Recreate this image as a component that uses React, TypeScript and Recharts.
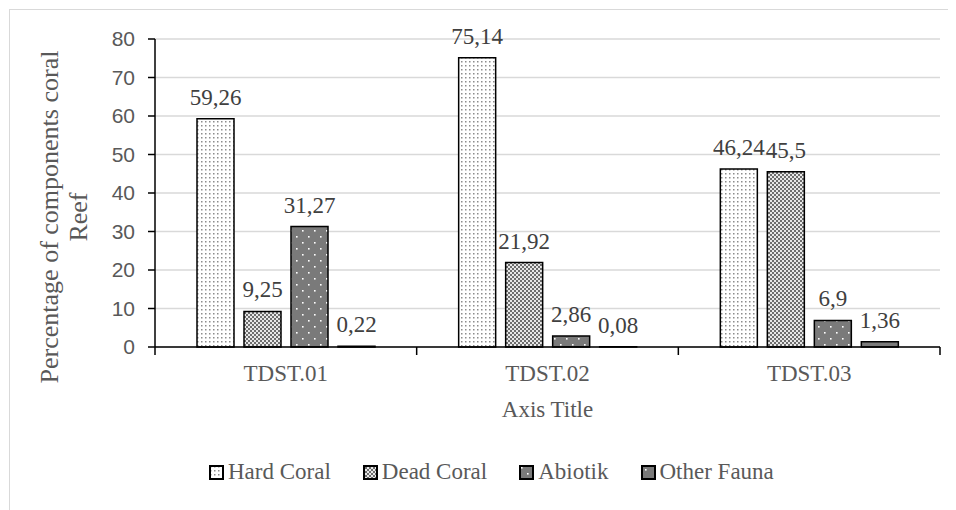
import React from "react";
import {
  BarChart, Bar, XAxis, YAxis, CartesianGrid, LabelList, Label,
} from "recharts";

const sites = ["TDST.01", "TDST.02", "TDST.03"];
const hardCoral = [59.26, 75.14, 46.24];
const deadCoral = [9.25, 21.92, 45.5];
const abiotik = [31.27, 2.86, 6.9];
const otherFauna = [0.22, 0.08, 1.36];
const yTicks = [0, 10, 20, 30, 40, 50, 60, 70, 80];

const SERIES = [
  { key: "hard", name: "Hard Coral", fill: "url(#patHard)", values: hardCoral },
  { key: "dead", name: "Dead Coral", fill: "url(#patDead)", values: deadCoral },
  { key: "abio", name: "Abiotik", fill: "url(#patAbio)", values: abiotik },
  { key: "other", name: "Other Fauna", fill: "url(#patOther)", values: otherFauna },
];

const data = sites.map((s, i) => {
  const row: Record<string, string | number> = { site: s };
  SERIES.forEach((se) => (row[se.key] = se.values[i]));
  return row;
});

const W = 956;
const H = 510;
const PLOT_LEFT = 155;
const PLOT_RIGHT = 940;
const PLOT_TOP = 39;
const PLOT_BOTTOM = 347;
const X_AXIS_H = 50;
const BAND = (PLOT_RIGHT - PLOT_LEFT) / sites.length;

const SERIF = "'Liberation Serif', 'Times New Roman', serif";
const SANS = "'Liberation Sans', Arial, sans-serif";

const fmt = (v: number) => String(v).replace(".", ",");

function CatTick(props: any) {
  const { x, payload, index } = props;
  const left = x - BAND / 2;
  return (
    <g>
      <line x1={left} x2={left} y1={PLOT_BOTTOM} y2={PLOT_BOTTOM + 8} stroke="#000" strokeWidth={1.5} />
      {index === sites.length - 1 && (
        <line x1={x + BAND / 2} x2={x + BAND / 2} y1={PLOT_BOTTOM} y2={PLOT_BOTTOM + 8} stroke="#000" strokeWidth={1.5} />
      )}
      <text x={x} y={PLOT_BOTTOM + 34} textAnchor="middle" fontFamily={SERIF} fontSize={23} fill="#595959">
        {payload.value}
      </text>
    </g>
  );
}

// Excel-style two-line rotated title, centred a bit below the plot middle
function YTitle() {
  const cy = 217;
  return (
    <g>
      <text x={58} y={cy} transform={`rotate(-90, 58, ${cy})`} textAnchor="middle" fontFamily={SERIF} fontSize={26} fill="#595959">
        Percentage of components coral
      </text>
      <text x={87} y={cy} transform={`rotate(-90, 87, ${cy})`} textAnchor="middle" fontFamily={SERIF} fontSize={26} fill="#595959">
        Reef
      </text>
    </g>
  );
}

function Patterns() {
  return (
    <defs>
      <pattern id="patHard" width="4" height="4" patternUnits="userSpaceOnUse">
        <rect width="4" height="4" fill="#fff" />
        <rect x="1" y="1" width="1.5" height="1.5" fill="#8c8c8c" />
      </pattern>
      <pattern id="patDead" width="4" height="4" patternUnits="userSpaceOnUse">
        <rect width="4" height="4" fill="#e8e8e8" />
        <rect x="0" y="0" width="2" height="2" fill="#6e6e6e" />
        <rect x="2" y="2" width="2" height="2" fill="#6e6e6e" />
      </pattern>
      <pattern id="patAbio" width="12" height="12" patternUnits="userSpaceOnUse">
        <rect width="12" height="12" fill="#7a7a7a" />
        <rect x="2" y="2" width="1.6" height="1.6" fill="#fff" />
        <rect x="8" y="8" width="1.6" height="1.6" fill="#fff" />
      </pattern>
      <pattern id="patOther" width="16" height="16" patternUnits="userSpaceOnUse">
        <rect width="16" height="16" fill="#7a7a7a" />
        <rect x="4" y="4" width="1.6" height="1.6" fill="#fff" />
      </pattern>
    </defs>
  );
}

function LegendIcon({ fill }: { fill: string }) {
  return (
    <svg width={15} height={15} style={{ marginRight: 4 }}>
      <rect x={1} y={1} width={13} height={13} fill={fill} stroke="#000" strokeWidth={2} />
    </svg>
  );
}

export default function App() {
  return (
    <div style={{ position: "relative", width: W, height: H, margin: "-8px 0 0 -8px", background: "#fff", overflow: "hidden" }}>
      <div style={{ position: "absolute", left: 9, top: 9, width: 940, height: 520, border: "1px solid #d9d9d9" }} />
      <svg width={0} height={0} style={{ position: "absolute" }}>
        <Patterns />
      </svg>
      <div style={{ position: "absolute", left: 0, top: 0 }}>
        <BarChart
          width={W}
          height={H}
          data={data}
          margin={{ top: PLOT_TOP, right: W - PLOT_RIGHT, left: PLOT_LEFT - 60, bottom: H - PLOT_BOTTOM - X_AXIS_H }}
          barCategoryGap={42}
          barGap={10}
        >
          <CartesianGrid vertical={false} stroke="#d9d9d9" strokeWidth={1.5} />
          <XAxis
            dataKey="site"
            height={X_AXIS_H}
            axisLine={{ stroke: "#000", strokeWidth: 1.5 }}
            tickLine={false}
            tick={<CatTick />}
            interval={0}
          >
            <Label value="Axis Title" position="bottom" offset={4} style={{ fontFamily: SERIF, fontSize: 23, fill: "#595959" }} />
          </XAxis>
          <YAxis
            width={60}
            domain={[0, 80]}
            ticks={yTicks}
            interval={0}
            axisLine={{ stroke: "#000", strokeWidth: 1.5 }}
            tickLine={{ stroke: "#000", strokeWidth: 1.5 }}
            tickSize={7}
            tickMargin={13}
            tick={{ fontFamily: SANS, fontSize: 21, fill: "#595959" }}
            label={{ content: <YTitle /> }}
          />
          {SERIES.map((se) => (
            <Bar key={se.key} dataKey={se.key} name={se.name} fill={se.fill} stroke="#000" strokeWidth={1.5} isAnimationActive={false}>
              <LabelList
                dataKey={se.key}
                position="top"
                offset={14}
                formatter={(v: number) => fmt(v)}
                style={{ fontFamily: SERIF, fontSize: 23, fill: "#404040" }}
              />
            </Bar>
          ))}
        </BarChart>
      </div>
      <div style={{ position: "absolute", left: 209, top: 459, display: "flex", alignItems: "center", fontFamily: SERIF, fontSize: 23, color: "#595959" }}>
        {SERIES.map((se) => (
          <div key={se.key} style={{ display: "flex", alignItems: "center", marginRight: 32 }}>
            <LegendIcon fill={se.fill} />
            <span>{se.name}</span>
          </div>
        ))}
      </div>
    </div>
  );
}
